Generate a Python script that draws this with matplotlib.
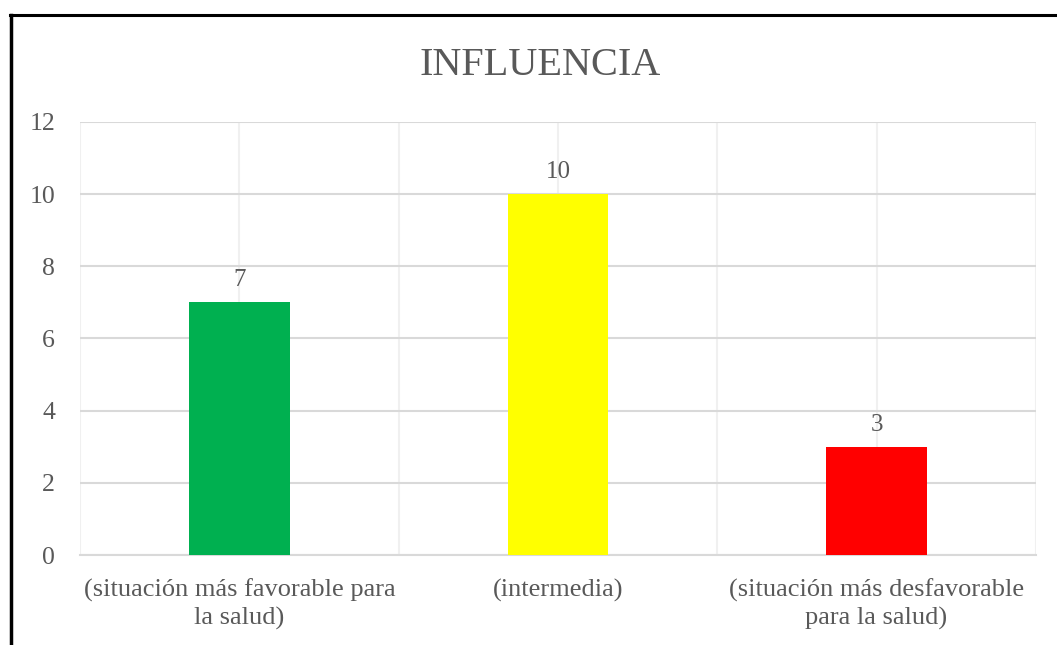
import matplotlib.pyplot as plt
from matplotlib.lines import Line2D

categories = ["(situación más favorable para\nla salud)", "(intermedia)",
              "(situación más desfavorable\npara la salud)"]
values = [7, 10, 3]
colors = ["#00B050", "#FFFF00", "#FF0000"]

plt.rcParams['font.family'] = ['Liberation Serif', 'DejaVu Serif']
txt = "#595959"

fig = plt.figure(figsize=(10.57, 6.45), dpi=100)
ax = fig.add_axes([0.0757, 0.1395, 0.9043, 0.6715])

x = list(range(len(categories)))
bars = ax.bar(x, values, width=0.315, color=colors, zorder=3)

for b, v in zip(bars, values):
    ax.annotate(str(v), (b.get_x() + b.get_width() / 2, v), xytext=(0, 8),
                textcoords="offset points", ha="center", va="bottom",
                fontsize=18, color=txt, zorder=4)

ax.set_xlim(-0.5, 2.5)
ax.set_ylim(0, 12)
ax.set_yticks(range(0, 13, 2))
ax.set_xticks(x)
ax.set_xticklabels(categories, fontsize=19, color=txt, linespacing=1.3)
ax.set_xticks([-0.5, 0.5, 1.5, 2.5], minor=True)
ax.tick_params(axis="y", length=0, pad=18, labelsize=18.5, labelcolor=txt)
ax.tick_params(axis="x", which="both", length=0, pad=17)

ax.grid(axis="y", color="#D9D9D9", linewidth=1.5, zorder=0)
ax.grid(axis="x", which="both", color="#F0F0F0", linewidth=1.5, zorder=0)
for s in ["top", "right", "left"]:
    ax.spines[s].set_visible(False)
ax.spines["bottom"].set_color("#D9D9D9")
ax.spines["bottom"].set_linewidth(1.5)

fig.text(0.511, 0.899, "INFLUENCIA", ha="center", va="center",
         fontsize=29, color=txt)

# outer frame (left and top only)
fig.add_artist(Line2D([0.0105, 0.0105], [0, 1 - 15 / 645], color="black",
                      linewidth=2.5, transform=fig.transFigure))
fig.add_artist(Line2D([0.0095, 1], [1 - 15 / 645, 1 - 15 / 645], color="black",
                      linewidth=2.2, transform=fig.transFigure))

fig.savefig("out.png", dpi=100)
